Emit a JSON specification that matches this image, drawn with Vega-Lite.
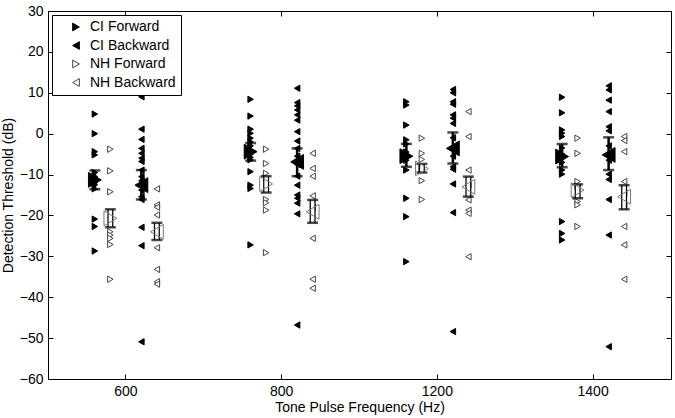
{
  "$schema": "https://vega.github.io/schema/vega-lite/v6.json",
  "width": 623,
  "height": 368,
  "autosize": {"type": "none"},
  "padding": {"left": 48, "top": 11, "right": 4, "bottom": 39},
  "background": "white",
  "config": {
    "view": {"stroke": "black", "strokeWidth": 1},
    "font": "Liberation Sans",
    "axis": {
      "grid": false, "domainColor": "black", "domainWidth": 1, "tickColor": "black", "labelColor": "black",
      "titleColor": "black", "labelFont": "Liberation Sans", "titleFont": "Liberation Sans",
      "labelFontSize": 14, "titleFontSize": 14, "titleFontWeight": "normal", "tickSize": -5, "labelPadding": 10
    },
    "legend": {
      "orient": "top-left", "offset": 4, "strokeColor": "black", "fillColor": "white", "padding": 5,
      "labelFont": "Liberation Sans", "labelFontSize": 14, "labelColor": "black", "symbolSize": 60,
      "symbolStrokeWidth": 1, "rowPadding": 4.5, "labelOffset": 7, "symbolOffset": 12
    }
  },
  "datasets": {
    "points": [
      {"freq": 600, "group": "CI Forward", "threshold": 4.8},
      {"freq": 600, "group": "CI Forward", "threshold": 0},
      {"freq": 600, "group": "CI Forward", "threshold": -4.4},
      {"freq": 600, "group": "CI Forward", "threshold": -5.2},
      {"freq": 600, "group": "CI Forward", "threshold": -9.5},
      {"freq": 600, "group": "CI Forward", "threshold": -10.5},
      {"freq": 600, "group": "CI Forward", "threshold": -11},
      {"freq": 600, "group": "CI Forward", "threshold": -12},
      {"freq": 600, "group": "CI Forward", "threshold": -12.5},
      {"freq": 600, "group": "CI Forward", "threshold": -13.5},
      {"freq": 600, "group": "CI Forward", "threshold": -20.9},
      {"freq": 600, "group": "CI Forward", "threshold": -22.7},
      {"freq": 600, "group": "CI Forward", "threshold": -28.7},
      {"freq": 600, "group": "CI Backward", "threshold": 9.0},
      {"freq": 600, "group": "CI Backward", "threshold": 1.1},
      {"freq": 600, "group": "CI Backward", "threshold": -1.4},
      {"freq": 600, "group": "CI Backward", "threshold": -3.6},
      {"freq": 600, "group": "CI Backward", "threshold": -4.8},
      {"freq": 600, "group": "CI Backward", "threshold": -6.0},
      {"freq": 600, "group": "CI Backward", "threshold": -6.8},
      {"freq": 600, "group": "CI Backward", "threshold": -8.9},
      {"freq": 600, "group": "CI Backward", "threshold": -10.5},
      {"freq": 600, "group": "CI Backward", "threshold": -11.5},
      {"freq": 600, "group": "CI Backward", "threshold": -13.8},
      {"freq": 600, "group": "CI Backward", "threshold": -15.4},
      {"freq": 600, "group": "CI Backward", "threshold": -16.1},
      {"freq": 600, "group": "CI Backward", "threshold": -22.9},
      {"freq": 600, "group": "CI Backward", "threshold": -27.4},
      {"freq": 600, "group": "CI Backward", "threshold": -50.9},
      {"freq": 600, "group": "NH Forward", "threshold": -3.8},
      {"freq": 600, "group": "NH Forward", "threshold": -9.1},
      {"freq": 600, "group": "NH Forward", "threshold": -14.2},
      {"freq": 600, "group": "NH Forward", "threshold": -24.0},
      {"freq": 600, "group": "NH Forward", "threshold": -24.8},
      {"freq": 600, "group": "NH Forward", "threshold": -25.6},
      {"freq": 600, "group": "NH Forward", "threshold": -27.1},
      {"freq": 600, "group": "NH Forward", "threshold": -35.6},
      {"freq": 600, "group": "NH Backward", "threshold": -13.5},
      {"freq": 600, "group": "NH Backward", "threshold": -17.4},
      {"freq": 600, "group": "NH Backward", "threshold": -18.0},
      {"freq": 600, "group": "NH Backward", "threshold": -19.9},
      {"freq": 600, "group": "NH Backward", "threshold": -27.9},
      {"freq": 600, "group": "NH Backward", "threshold": -33.2},
      {"freq": 600, "group": "NH Backward", "threshold": -36.2},
      {"freq": 600, "group": "NH Backward", "threshold": -36.8},
      {"freq": 800, "group": "CI Forward", "threshold": 8.4},
      {"freq": 800, "group": "CI Forward", "threshold": 4.3},
      {"freq": 800, "group": "CI Forward", "threshold": 1.1},
      {"freq": 800, "group": "CI Forward", "threshold": 0.1},
      {"freq": 800, "group": "CI Forward", "threshold": -1.1},
      {"freq": 800, "group": "CI Forward", "threshold": -2.0},
      {"freq": 800, "group": "CI Forward", "threshold": -3.0},
      {"freq": 800, "group": "CI Forward", "threshold": -4.0},
      {"freq": 800, "group": "CI Forward", "threshold": -5.0},
      {"freq": 800, "group": "CI Forward", "threshold": -5.8},
      {"freq": 800, "group": "CI Forward", "threshold": -6.4},
      {"freq": 800, "group": "CI Forward", "threshold": -9.3},
      {"freq": 800, "group": "CI Forward", "threshold": -12.6},
      {"freq": 800, "group": "CI Forward", "threshold": -13.4},
      {"freq": 800, "group": "CI Forward", "threshold": -27.2},
      {"freq": 800, "group": "CI Backward", "threshold": 11.1},
      {"freq": 800, "group": "CI Backward", "threshold": 7.6},
      {"freq": 800, "group": "CI Backward", "threshold": 6.8},
      {"freq": 800, "group": "CI Backward", "threshold": 5.8},
      {"freq": 800, "group": "CI Backward", "threshold": 4.6},
      {"freq": 800, "group": "CI Backward", "threshold": 3.3},
      {"freq": 800, "group": "CI Backward", "threshold": 0.5},
      {"freq": 800, "group": "CI Backward", "threshold": -1.8},
      {"freq": 800, "group": "CI Backward", "threshold": -3.6},
      {"freq": 800, "group": "CI Backward", "threshold": -5.5},
      {"freq": 800, "group": "CI Backward", "threshold": -7.5},
      {"freq": 800, "group": "CI Backward", "threshold": -10.4},
      {"freq": 800, "group": "CI Backward", "threshold": -12.6},
      {"freq": 800, "group": "CI Backward", "threshold": -15.0},
      {"freq": 800, "group": "CI Backward", "threshold": -15.8},
      {"freq": 800, "group": "CI Backward", "threshold": -17.0},
      {"freq": 800, "group": "CI Backward", "threshold": -19.6},
      {"freq": 800, "group": "CI Backward", "threshold": -46.8},
      {"freq": 800, "group": "NH Forward", "threshold": -3.8},
      {"freq": 800, "group": "NH Forward", "threshold": -7.3},
      {"freq": 800, "group": "NH Forward", "threshold": -9.7},
      {"freq": 800, "group": "NH Forward", "threshold": -10.8},
      {"freq": 800, "group": "NH Forward", "threshold": -16.1},
      {"freq": 800, "group": "NH Forward", "threshold": -16.9},
      {"freq": 800, "group": "NH Forward", "threshold": -18.7},
      {"freq": 800, "group": "NH Forward", "threshold": -29.1},
      {"freq": 800, "group": "NH Backward", "threshold": -4.8},
      {"freq": 800, "group": "NH Backward", "threshold": -8.5},
      {"freq": 800, "group": "NH Backward", "threshold": -10.4},
      {"freq": 800, "group": "NH Backward", "threshold": -15.2},
      {"freq": 800, "group": "NH Backward", "threshold": -18.0},
      {"freq": 800, "group": "NH Backward", "threshold": -25.6},
      {"freq": 800, "group": "NH Backward", "threshold": -35.6},
      {"freq": 800, "group": "NH Backward", "threshold": -37.8},
      {"freq": 1200, "group": "CI Forward", "threshold": 7.8},
      {"freq": 1200, "group": "CI Forward", "threshold": 7.0},
      {"freq": 1200, "group": "CI Forward", "threshold": 2.1},
      {"freq": 1200, "group": "CI Forward", "threshold": -1.5},
      {"freq": 1200, "group": "CI Forward", "threshold": -2.5},
      {"freq": 1200, "group": "CI Forward", "threshold": -4.5},
      {"freq": 1200, "group": "CI Forward", "threshold": -6.5},
      {"freq": 1200, "group": "CI Forward", "threshold": -8.9},
      {"freq": 1200, "group": "CI Forward", "threshold": -15.8},
      {"freq": 1200, "group": "CI Forward", "threshold": -20.3},
      {"freq": 1200, "group": "CI Forward", "threshold": -31.3},
      {"freq": 1200, "group": "CI Backward", "threshold": 10.8},
      {"freq": 1200, "group": "CI Backward", "threshold": 10.0},
      {"freq": 1200, "group": "CI Backward", "threshold": 7.8},
      {"freq": 1200, "group": "CI Backward", "threshold": 7.2},
      {"freq": 1200, "group": "CI Backward", "threshold": 4.6},
      {"freq": 1200, "group": "CI Backward", "threshold": 3.8},
      {"freq": 1200, "group": "CI Backward", "threshold": 2.5},
      {"freq": 1200, "group": "CI Backward", "threshold": -1.0},
      {"freq": 1200, "group": "CI Backward", "threshold": -5.5},
      {"freq": 1200, "group": "CI Backward", "threshold": -8.1},
      {"freq": 1200, "group": "CI Backward", "threshold": -8.7},
      {"freq": 1200, "group": "CI Backward", "threshold": -12.3},
      {"freq": 1200, "group": "CI Backward", "threshold": -19.3},
      {"freq": 1200, "group": "CI Backward", "threshold": -48.4},
      {"freq": 1200, "group": "NH Forward", "threshold": -1.1},
      {"freq": 1200, "group": "NH Forward", "threshold": -4.8},
      {"freq": 1200, "group": "NH Forward", "threshold": -6.3},
      {"freq": 1200, "group": "NH Forward", "threshold": -8.0},
      {"freq": 1200, "group": "NH Forward", "threshold": -8.7},
      {"freq": 1200, "group": "NH Forward", "threshold": -9.1},
      {"freq": 1200, "group": "NH Forward", "threshold": -11.5},
      {"freq": 1200, "group": "NH Forward", "threshold": -16.1},
      {"freq": 1200, "group": "NH Backward", "threshold": 5.4},
      {"freq": 1200, "group": "NH Backward", "threshold": -0.7},
      {"freq": 1200, "group": "NH Backward", "threshold": -8.9},
      {"freq": 1200, "group": "NH Backward", "threshold": -12.5},
      {"freq": 1200, "group": "NH Backward", "threshold": -16.2},
      {"freq": 1200, "group": "NH Backward", "threshold": -18.7},
      {"freq": 1200, "group": "NH Backward", "threshold": -19.5},
      {"freq": 1200, "group": "NH Backward", "threshold": -30.1},
      {"freq": 1400, "group": "CI Forward", "threshold": 8.9},
      {"freq": 1400, "group": "CI Forward", "threshold": 5.1},
      {"freq": 1400, "group": "CI Forward", "threshold": 0.9},
      {"freq": 1400, "group": "CI Forward", "threshold": 0.1},
      {"freq": 1400, "group": "CI Forward", "threshold": -0.7},
      {"freq": 1400, "group": "CI Forward", "threshold": -3.5},
      {"freq": 1400, "group": "CI Forward", "threshold": -5.0},
      {"freq": 1400, "group": "CI Forward", "threshold": -7.0},
      {"freq": 1400, "group": "CI Forward", "threshold": -8.9},
      {"freq": 1400, "group": "CI Forward", "threshold": -9.9},
      {"freq": 1400, "group": "CI Forward", "threshold": -21.5},
      {"freq": 1400, "group": "CI Forward", "threshold": -24.4},
      {"freq": 1400, "group": "CI Forward", "threshold": -26.0},
      {"freq": 1400, "group": "CI Backward", "threshold": 11.7},
      {"freq": 1400, "group": "CI Backward", "threshold": 10.7},
      {"freq": 1400, "group": "CI Backward", "threshold": 8.2},
      {"freq": 1400, "group": "CI Backward", "threshold": 5.4},
      {"freq": 1400, "group": "CI Backward", "threshold": 1.7},
      {"freq": 1400, "group": "CI Backward", "threshold": 0.7},
      {"freq": 1400, "group": "CI Backward", "threshold": -3.0},
      {"freq": 1400, "group": "CI Backward", "threshold": -6.5},
      {"freq": 1400, "group": "CI Backward", "threshold": -9.9},
      {"freq": 1400, "group": "CI Backward", "threshold": -11.2},
      {"freq": 1400, "group": "CI Backward", "threshold": -16.1},
      {"freq": 1400, "group": "CI Backward", "threshold": -24.8},
      {"freq": 1400, "group": "CI Backward", "threshold": -52.1},
      {"freq": 1400, "group": "NH Forward", "threshold": -1.1},
      {"freq": 1400, "group": "NH Forward", "threshold": -4.8},
      {"freq": 1400, "group": "NH Forward", "threshold": -11.7},
      {"freq": 1400, "group": "NH Forward", "threshold": -12.8},
      {"freq": 1400, "group": "NH Forward", "threshold": -16.6},
      {"freq": 1400, "group": "NH Forward", "threshold": -17.4},
      {"freq": 1400, "group": "NH Forward", "threshold": -22.7},
      {"freq": 1400, "group": "NH Backward", "threshold": -0.7},
      {"freq": 1400, "group": "NH Backward", "threshold": -1.7},
      {"freq": 1400, "group": "NH Backward", "threshold": -4.4},
      {"freq": 1400, "group": "NH Backward", "threshold": -11.7},
      {"freq": 1400, "group": "NH Backward", "threshold": -14.5},
      {"freq": 1400, "group": "NH Backward", "threshold": -17.4},
      {"freq": 1400, "group": "NH Backward", "threshold": -22.7},
      {"freq": 1400, "group": "NH Backward", "threshold": -27.2},
      {"freq": 1400, "group": "NH Backward", "threshold": -35.6}
    ],
    "means": [
      {"freq": 600, "group": "CI Forward", "mean": -11.3, "lo": -13.6, "hi": -9.0},
      {"freq": 600, "group": "CI Backward", "mean": -12.6, "lo": -16.1, "hi": -8.9},
      {"freq": 600, "group": "NH Forward", "mean": -20.7, "lo": -22.9, "hi": -18.5},
      {"freq": 600, "group": "NH Backward", "mean": -24.0, "lo": -26.0, "hi": -21.8},
      {"freq": 800, "group": "CI Forward", "mean": -4.4, "lo": -6.6, "hi": -2.3},
      {"freq": 800, "group": "CI Backward", "mean": -6.9, "lo": -10.4, "hi": -3.6},
      {"freq": 800, "group": "NH Forward", "mean": -12.3, "lo": -14.4, "hi": -10.4},
      {"freq": 800, "group": "NH Backward", "mean": -19.1, "lo": -21.8, "hi": -16.2},
      {"freq": 1200, "group": "CI Forward", "mean": -5.5, "lo": -8.1, "hi": -2.5},
      {"freq": 1200, "group": "CI Backward", "mean": -3.6, "lo": -7.3, "hi": 0.3},
      {"freq": 1200, "group": "NH Forward", "mean": -8.5, "lo": -9.5, "hi": -7.4},
      {"freq": 1200, "group": "NH Backward", "mean": -13.0, "lo": -15.4, "hi": -10.5},
      {"freq": 1400, "group": "CI Forward", "mean": -5.6, "lo": -8.2, "hi": -2.5},
      {"freq": 1400, "group": "CI Backward", "mean": -5.2, "lo": -8.9, "hi": -0.9},
      {"freq": 1400, "group": "NH Forward", "mean": -13.8, "lo": -15.8, "hi": -12.4},
      {"freq": 1400, "group": "NH Backward", "mean": -15.4, "lo": -18.5, "hi": -12.6}
    ]
  },
  "resolve": {"axis": {"x": "independent", "y": "independent"}},
  "layer": [
    {
      "data": {"name": "points"},
      "mark": {"type": "point", "size": 40, "strokeWidth": 1, "opacity": 1},
      "encoding": {
        "x": {"field": "freq", "type": "ordinal", "scale": {"type": "band", "paddingInner": 0, "paddingOuter": 0},
              "axis": {"orient": "bottom", "title": "Tone Pulse Frequency (Hz)", "labelAngle": 0, "titlePadding": 2}},
        "xOffset": {"field": "group", "type": "nominal", "scale": {"type": "point", "domain": ["s0", "s1", "s2", "CI Forward", "NH Forward", "s5", "CI Backward", "NH Backward", "s8", "s9", "s10"], "padding": 0.025}},
        "y": {"field": "threshold", "type": "quantitative", "scale": {"domain": [-60, 30], "nice": false, "zero": false},
              "axis": {"orient": "left", "title": "Detection Threshold (dB)", "values": [-60, -50, -40, -30, -20, -10, 0, 10, 20, 30]}},
        "shape": {"field": "group", "type": "nominal", "title": null,
                  "scale": {"domain": ["CI Forward", "CI Backward", "NH Forward", "NH Backward"], "range": ["triangle-right", "triangle-left", "triangle-right", "triangle-left"]}},
        "fill": {"field": "group", "type": "nominal", "title": null,
                 "scale": {"domain": ["CI Forward", "CI Backward", "NH Forward", "NH Backward"], "range": ["black", "black", "white", "white"]}},
        "stroke": {"field": "group", "type": "nominal", "title": null,
                   "scale": {"domain": ["CI Forward", "CI Backward", "NH Forward", "NH Backward"], "range": ["black", "black", "#444444", "#444444"]}}
      }
    },
    {
      "data": {"name": "means"},
      "transform": [{"filter": {"field": "group", "oneOf": ["NH Forward", "NH Backward"]}}],
      "mark": {"type": "rule", "color": "black", "strokeWidth": 6},
      "encoding": {
        "x": {"field": "freq", "type": "ordinal", "axis": null},
        "xOffset": {"field": "group", "type": "nominal"},
        "y": {"field": "lo", "type": "quantitative", "axis": null},
        "y2": {"field": "hi"}
      }
    },
    {
      "data": {"name": "means"},
      "transform": [{"filter": {"field": "group", "oneOf": ["NH Forward", "NH Backward"]}}],
      "mark": {"type": "rule", "color": "white", "strokeWidth": 3.5},
      "encoding": {
        "x": {"field": "freq", "type": "ordinal", "axis": null},
        "xOffset": {"field": "group", "type": "nominal"},
        "y": {"field": "lo", "type": "quantitative", "axis": null},
        "y2": {"field": "hi"}
      }
    },
    {
      "data": {"name": "means"},
      "transform": [{"filter": {"field": "group", "oneOf": ["CI Forward", "CI Backward"]}}],
      "mark": {"type": "rule", "color": "black", "strokeWidth": 2.5},
      "encoding": {
        "x": {"field": "freq", "type": "ordinal", "axis": null},
        "xOffset": {"field": "group", "type": "nominal"},
        "y": {"field": "lo", "type": "quantitative", "axis": null},
        "y2": {"field": "hi"}
      }
    },
    {
      "data": {"name": "means"},
      "mark": {"type": "tick", "color": "black", "size": 11, "thickness": 2.5, "orient": "horizontal"},
      "encoding": {
        "x": {"field": "freq", "type": "ordinal", "axis": null},
        "xOffset": {"field": "group", "type": "nominal"},
        "y": {"field": "lo", "type": "quantitative", "axis": null}
      }
    },
    {
      "data": {"name": "means"},
      "mark": {"type": "tick", "color": "black", "size": 11, "thickness": 2.5, "orient": "horizontal"},
      "encoding": {
        "x": {"field": "freq", "type": "ordinal", "axis": null},
        "xOffset": {"field": "group", "type": "nominal"},
        "y": {"field": "hi", "type": "quantitative", "axis": null}
      }
    },
    {
      "data": {"name": "means"},
      "transform": [{"filter": {"field": "group", "equal": "CI Forward"}}],
      "mark": {"type": "point", "size": 220, "stroke": "black", "strokeWidth": 1, "opacity": 1, "xOffset": 5},
      "encoding": {
        "x": {"field": "freq", "type": "ordinal", "axis": null},
        "xOffset": {"field": "group", "type": "nominal"},
        "y": {"field": "mean", "type": "quantitative", "axis": null},
        "shape": {"field": "group", "type": "nominal", "title": null},
        "fill": {"field": "group", "type": "nominal", "title": null}
      }
    },
    {
      "data": {"name": "means"},
      "transform": [{"filter": {"field": "group", "equal": "CI Backward"}}],
      "mark": {"type": "point", "size": 220, "stroke": "black", "strokeWidth": 1, "opacity": 1, "xOffset": -5},
      "encoding": {
        "x": {"field": "freq", "type": "ordinal", "axis": null},
        "xOffset": {"field": "group", "type": "nominal"},
        "y": {"field": "mean", "type": "quantitative", "axis": null},
        "shape": {"field": "group", "type": "nominal", "title": null},
        "fill": {"field": "group", "type": "nominal", "title": null}
      }
    },
    {
      "data": {"name": "means"},
      "transform": [{"filter": {"field": "group", "equal": "NH Forward"}}],
      "mark": {"type": "point", "size": 220, "stroke": "#777777", "strokeWidth": 1, "opacity": 1, "fillOpacity": 0, "xOffset": 5},
      "encoding": {
        "x": {"field": "freq", "type": "ordinal", "axis": null},
        "xOffset": {"field": "group", "type": "nominal"},
        "y": {"field": "mean", "type": "quantitative", "axis": null},
        "shape": {"field": "group", "type": "nominal", "title": null}
      }
    },
    {
      "data": {"name": "means"},
      "transform": [{"filter": {"field": "group", "equal": "NH Backward"}}],
      "mark": {"type": "point", "size": 220, "stroke": "#777777", "strokeWidth": 1, "opacity": 1, "fillOpacity": 0, "xOffset": -5},
      "encoding": {
        "x": {"field": "freq", "type": "ordinal", "axis": null},
        "xOffset": {"field": "group", "type": "nominal"},
        "y": {"field": "mean", "type": "quantitative", "axis": null},
        "shape": {"field": "group", "type": "nominal", "title": null}
      }
    },
    {
      "data": {"name": "means"},
      "mark": {"type": "point", "opacity": 0},
      "encoding": {
        "x": {"field": "freq", "type": "ordinal", "axis": {"orient": "top", "labels": false, "title": null, "domain": false}},
        "y": {"field": "mean", "type": "quantitative", "axis": {"orient": "right", "labels": false, "title": null, "domain": false, "values": [-60, -50, -40, -30, -20, -10, 0, 10, 20, 30]}}
      }
    }
  ]
}
